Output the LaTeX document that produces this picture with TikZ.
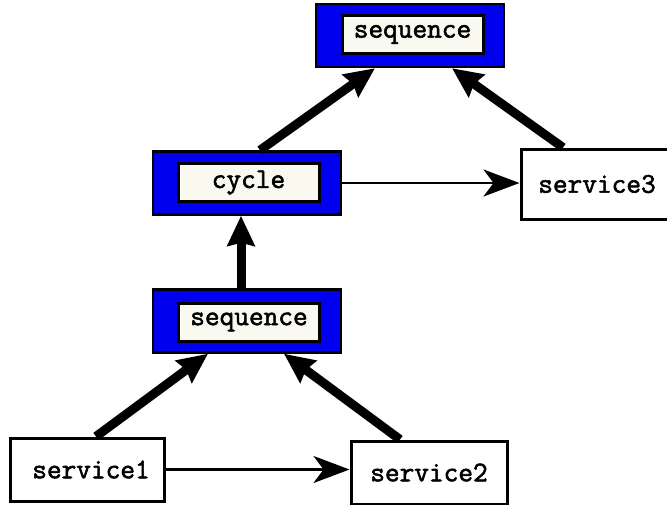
\documentclass[tikz,border=0pt]{standalone}
\usepackage{fontspec}
\newfontfamily\monob{Latin Modern Mono}[FakeBold=2]
\usetikzlibrary{arrows.meta,calc}
\definecolor{boxblue}{RGB}{0,0,238}
\definecolor{cream}{RGB}{250,249,240}
\begin{document}
\begin{tikzpicture}[x=1pt,y=-1pt,
  outerbox/.style={draw=black,line width=2.5pt,fill=boxblue,minimum width=188pt,minimum height=63pt,inner sep=0pt},
  innerbox/.style={draw=black,line width=3pt,fill=cream,minimum width=141pt,minimum height=38pt,inner sep=0pt,font=\monob\fontsize{28.5}{31}\selectfont},
  svcbox/.style={draw=black,line width=3pt,fill=white,inner sep=0pt,font=\monob\fontsize{28.5}{31}\selectfont},
  thick arrow/.style={line width=9pt,-{Stealth[length=30pt,width=27pt,inset=3pt]}},
  thin arrow/.style={line width=2.2pt,-{Stealth[length=36pt,width=27pt,inset=10pt]}}
]
\useasboundingbox (0,0) rectangle (667,504);
% top sequence
\node[outerbox] (tseq) at (410,35.5) {};
\node[innerbox] (tseqi) at (412.5,34.5) {sequence};
% cycle
\node[outerbox] (cyc) at (247,183) {};
\node[innerbox] (cyci) at (248.5,182.5) {cycle};
% middle sequence
\node[outerbox] (mseq) at (247,321) {};
\node[innerbox] (mseqi) at (249,322) {sequence};
% services
\node[svcbox,minimum width=154pt,minimum height=63pt] (s1) at (87,469.5) {\hspace*{8pt}service1};
\node[svcbox,minimum width=156pt,minimum height=63pt] (s2) at (429,472.5) {service2};
\node[svcbox,minimum width=147pt,minimum height=70pt] (s3) at (594.5,184) {\hspace*{5pt}service3};
% thick arrows
\draw[thick arrow] ([xshift=9pt]s1.north) -- ([xshift=-39pt]mseq.south);
\draw[thick arrow] ([xshift=-29pt]s2.north) -- ([xshift=37pt]mseq.south);
\draw[thick arrow] ([xshift=-6pt]mseq.north) -- ([xshift=-6pt]cyc.south);
\draw[thick arrow] ([xshift=13pt]cyc.north) -- ([xshift=-35pt]tseq.south);
\draw[thick arrow] ([xshift=-31.5pt]s3.north) -- ([xshift=42pt]tseq.south);
% thin arrows
\draw[thin arrow] (cyc.east) -- (cyc.east -| s3.west);
\draw[thin arrow] (s1.east) -- (s1.east -| s2.west);
\end{tikzpicture}
\end{document}
